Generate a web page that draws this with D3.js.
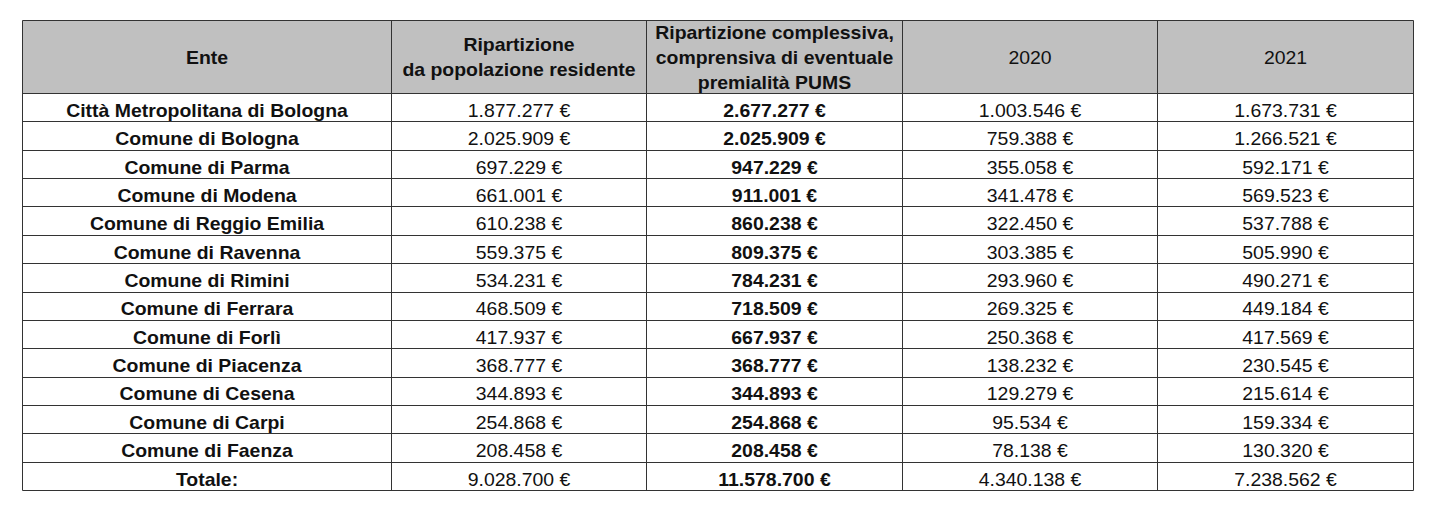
<!DOCTYPE html>
<html><head><meta charset="utf-8">
<script src="https://cdn.jsdelivr.net/npm/d3@7"></script>
<style>body{margin:0;background:#fff;}svg{display:block;}</style>
</head><body><svg id="c" width="1433" height="516"></svg>
<script>
const headers = [
  ["Ente"],
  ["Ripartizione", "da popolazione residente"],
  ["Ripartizione complessiva,", "comprensiva di eventuale", "premialità PUMS"],
  ["2020"],
  ["2021"]
];
const headerBold = [true, true, true, false, false];
const enti = ["Città Metropolitana di Bologna","Comune di Bologna","Comune di Parma","Comune di Modena","Comune di Reggio Emilia","Comune di Ravenna","Comune di Rimini","Comune di Ferrara","Comune di Forlì","Comune di Piacenza","Comune di Cesena","Comune di Carpi","Comune di Faenza","Totale:"];
const popolazione = ["1.877.277 €","2.025.909 €","697.229 €","661.001 €","610.238 €","559.375 €","534.231 €","468.509 €","417.937 €","368.777 €","344.893 €","254.868 €","208.458 €","9.028.700 €"];
const complessiva = ["2.677.277 €","2.025.909 €","947.229 €","911.001 €","860.238 €","809.375 €","784.231 €","718.509 €","667.937 €","368.777 €","344.893 €","254.868 €","208.458 €","11.578.700 €"];
const anno2020 = ["1.003.546 €","759.388 €","355.058 €","341.478 €","322.450 €","303.385 €","293.960 €","269.325 €","250.368 €","138.232 €","129.279 €","95.534 €","78.138 €","4.340.138 €"];
const anno2021 = ["1.673.731 €","1.266.521 €","592.171 €","569.523 €","537.788 €","505.990 €","490.271 €","449.184 €","417.569 €","230.545 €","215.614 €","159.334 €","130.320 €","7.238.562 €"];
const columns = [enti, popolazione, complessiva, anno2020, anno2021];
const colBold = [true, false, true, false, false];

const svg = d3.select("#c");
const tLeft = 22.5, tRight = 1413.5, tTop = 20.5, headBottom = 93.5, tBottom = 490.5;
const colEdges = [tLeft, 391.5, 646.5, 902.5, 1157.5, tRight];
const font = "'Liberation Sans', Arial, sans-serif";
const fs = 18;
const sx = 1.08;
const capHalf = fs * 0.358;

const y = d3.scaleBand().domain(d3.range(enti.length)).range([headBottom, tBottom]);

// header background
svg.append("rect").attr("x", tLeft).attr("y", tTop).attr("width", tRight-tLeft).attr("height", headBottom-tTop).attr("fill", "#c0c0c0");

// header texts
headers.forEach((lines, i) => {
  const cx = (colEdges[i] + colEdges[i+1]) / 2;
  const lh = 25;
  const cy = (tTop + headBottom) / 2 + 0.5;
  lines.forEach((ln, k) => {
    const by = cy + (k - (lines.length-1)/2) * lh + capHalf;
    svg.append("text").attr("transform", `translate(${cx},${by}) scale(${sx},1)`).attr("text-anchor", "middle")
      .attr("font-family", font).attr("font-size", fs).attr("font-weight", headerBold[i] ? "bold" : "normal")
      .attr("fill", "#111").text(ln);
  });
});

// body cells
columns.forEach((col, i) => {
  const cx = (colEdges[i] + colEdges[i+1]) / 2;
  svg.append("g").selectAll("text").data(col).join("text")
    .attr("transform", (d, r) => `translate(${cx},${y(r) + y.bandwidth()/2 + 2.8 + capHalf}) scale(${sx},1)`)
    .attr("text-anchor", "middle").attr("font-family", font).attr("font-size", fs)
    .attr("font-weight", colBold[i] ? "bold" : "normal")
    .attr("fill", "#111").text(d => d);
});

// horizontal lines
const hl = [tTop, headBottom].concat(d3.range(1, enti.length).map(r => y(r))).concat([tBottom]);
svg.append("g").selectAll("line").data(hl).join("line")
  .attr("x1", tLeft).attr("x2", tRight).attr("y1", d => Math.round(d-0.5)+0.5).attr("y2", d => Math.round(d-0.5)+0.5)
  .attr("stroke", "#333").attr("stroke-width", 1);
// vertical lines
svg.append("g").selectAll("line").data(colEdges).join("line")
  .attr("x1", d => d).attr("x2", d => d).attr("y1", tTop).attr("y2", tBottom)
  .attr("stroke", "#333").attr("stroke-width", 1);
</script></body></html>
